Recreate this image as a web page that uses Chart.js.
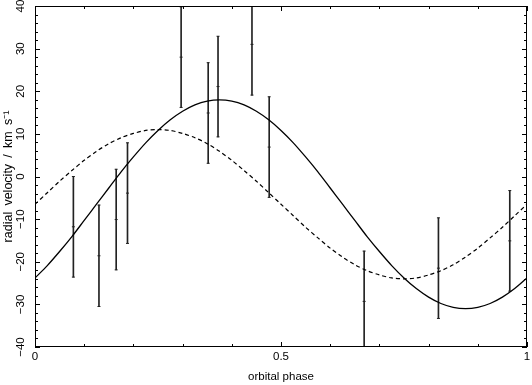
<!DOCTYPE html>
<html>
<head>
<meta charset="utf-8">
<script src="https://cdn.jsdelivr.net/npm/chart.js@4"></script>
<style>
  html, body { margin: 0; padding: 0; background: #fff; }
  #wrap { width: 532px; height: 385px; }
</style>
</head>
<body>
<div id="wrap"><canvas id="myChart"></canvas></div>
<script>
// measured radial velocities (km/s) with 1-sigma errors
const phase = [0.078, 0.130, 0.165, 0.188, 0.297, 0.352, 0.372, 0.441, 0.476, 0.669, 0.820, 0.965];
const rv    = [-11.8, -18.6, -10.1, -3.9, 28.0, 14.9, 21.1, 31.0, 6.9, -29.3, -21.5, -15.1];
const rvErr = [11.8, 11.9, 11.8, 11.8, 11.8, 11.8, 11.8, 11.9, 11.8, 11.8, 11.8, 11.8];

// model curves
const modelPhase = [0, 0.025, 0.05, 0.075, 0.1, 0.125, 0.15, 0.175, 0.2, 0.225, 0.25, 0.275, 0.3, 0.325, 0.35, 0.375, 0.4,
  0.425, 0.45, 0.475, 0.5, 0.525, 0.55, 0.575, 0.6, 0.625, 0.65, 0.675, 0.7, 0.725, 0.75, 0.775, 0.8, 0.825, 0.85,
  0.875, 0.9, 0.925, 0.95, 0.975, 1];
const solidFit = [-23.8, -20.9, -17.6, -14.1, -10.3, -6.5, -2.7, 1.1, 4.6, 7.9, 10.8, 13.3, 15.3, 16.8, 17.7, 18.0, 17.7,
  16.8, 15.3, 13.3, 10.8, 7.9, 4.6, 1.1, -2.7, -6.5, -10.3, -14.1, -17.6, -20.9, -23.8, -26.3, -28.3, -29.8, -30.7,
  -31.0, -30.7, -29.8, -28.3, -26.3, -23.8];
const dashedFit = [-6.5, -3.8, -1.1, 1.4, 3.8, 5.9, 7.7, 9.1, 10.1, 10.8, 11.0, 10.8, 10.1, 9.1, 7.7, 5.9, 3.8,
  1.4, -1.1, -3.8, -6.5, -9.2, -11.9, -14.4, -16.8, -18.9, -20.7, -22.1, -23.1, -23.8, -24.0, -23.8, -23.1, -22.1, -20.7,
  -18.9, -16.8, -14.4, -11.9, -9.2, -6.5];

const FONT = 'Liberation Sans, Arial, sans-serif';
const INK = '#000';

// PGPLOT-style frame with inward ticks on all four sides
const frameTicks = {
  id: 'frameTicks',
  afterDatasetsDraw(chart) {
    const { ctx, chartArea: a, scales: { x, y } } = chart;
    ctx.save();
    ctx.strokeStyle = INK;
    ctx.lineWidth = 1;
    ctx.beginPath();
    for (let i = 0; i <= 10; i++) {
      const px = Math.round(x.getPixelForValue(i / 10)) + 0.5;
      const len = i % 5 === 0 ? 5 : 3;
      ctx.moveTo(px, a.bottom); ctx.lineTo(px, a.bottom - len);
      ctx.moveTo(px, a.top); ctx.lineTo(px, a.top + len);
    }
    for (let v = -40; v <= 40; v += 2) {
      const py = Math.round(y.getPixelForValue(v)) + 0.5;
      const len = v % 10 === 0 ? 5 : 3;
      ctx.moveTo(a.left, py); ctx.lineTo(a.left + len, py);
      ctx.moveTo(a.right, py); ctx.lineTo(a.right - len, py);
    }
    ctx.stroke();
    ctx.strokeRect(a.left + 0.5, a.top + 0.5, a.right - a.left - 1, a.bottom - a.top - 1);
    ctx.restore();
  }
};

const ctx = document.getElementById('myChart').getContext('2d');

new Chart(ctx, {
  data: {
    datasets: [
      {
        type: 'line',
        data: modelPhase.map((p, i) => ({ x: p, y: solidFit[i] })),
        borderColor: INK,
        borderWidth: 1.3,
        pointRadius: 0,
        tension: 0.3
      },
      {
        type: 'line',
        data: modelPhase.map((p, i) => ({ x: p, y: dashedFit[i] })),
        borderColor: INK,
        borderWidth: 1.2,
        borderDash: [4, 3],
        pointRadius: 0,
        tension: 0.3
      },
      {
        type: 'bar',
        data: phase.map((p, i) => ({ x: p, y: [rv[i] - rvErr[i], rv[i] + rvErr[i]] })),
        backgroundColor: '#222',
        barThickness: 1,
        grouped: false
      },
      {
        // caps and centre marks of the error bars
        type: 'scatter',
        data: phase.flatMap((p, i) => [
          { x: p, y: rv[i] - rvErr[i] },
          { x: p, y: rv[i] },
          { x: p, y: rv[i] + rvErr[i] }
        ]),
        pointStyle: 'line',
        pointRadius: 1.5,
        borderColor: '#222',
        borderWidth: 1
      }
    ]
  },
  options: {
    responsive: true,
    maintainAspectRatio: false,
    animation: false,
    layout: { padding: { left: 0, right: 3, top: 6, bottom: 0 } },
    plugins: {
      legend: { display: false },
      tooltip: { enabled: false }
    },
    scales: {
      x: {
        type: 'linear',
        min: 0,
        max: 1,
        offset: false,
        grid: { display: false, drawTicks: false, offset: false },
        border: { display: false },
        ticks: {
          stepSize: 0.5,
          maxRotation: 0,
          padding: 3,
          color: INK,
          font: { family: FONT, size: 11.5 },
          callback: v => String(v)
        },
        title: {
          display: true,
          text: 'orbital phase',
          color: INK,
          padding: { top: 0, bottom: 1 },
          font: { family: FONT, size: 11.5 }
        },
        afterFit(s) {
          s.height = 38;
          s.paddingLeft = 0;
          s.paddingRight = 0;
        }
      },
      y: {
        min: -40,
        max: 40,
        grid: { display: false, drawTicks: false },
        border: { display: false },
        ticks: {
          stepSize: 10,
          minRotation: 90,
          maxRotation: 90,
          crossAlign: 'center',
          padding: 4,
          color: INK,
          font: { family: FONT, size: 11.5 },
          callback: v => String(v).replace('-', '\u2212')
        },
        title: {
          display: true,
          text: 'radial\u2002velocity\u2002/\u2002km\u2002s\u207B\u00B9',
          color: INK,
          padding: { top: 1.5, bottom: 0 },
          font: { family: FONT, size: 12.5 }
        },
        afterFit(s) {
          s.width = 35;
          s.paddingTop = 0;
          s.paddingBottom = 0;
        }
      }
    }
  },
  plugins: [frameTicks]
});
</script>
</body>
</html>
